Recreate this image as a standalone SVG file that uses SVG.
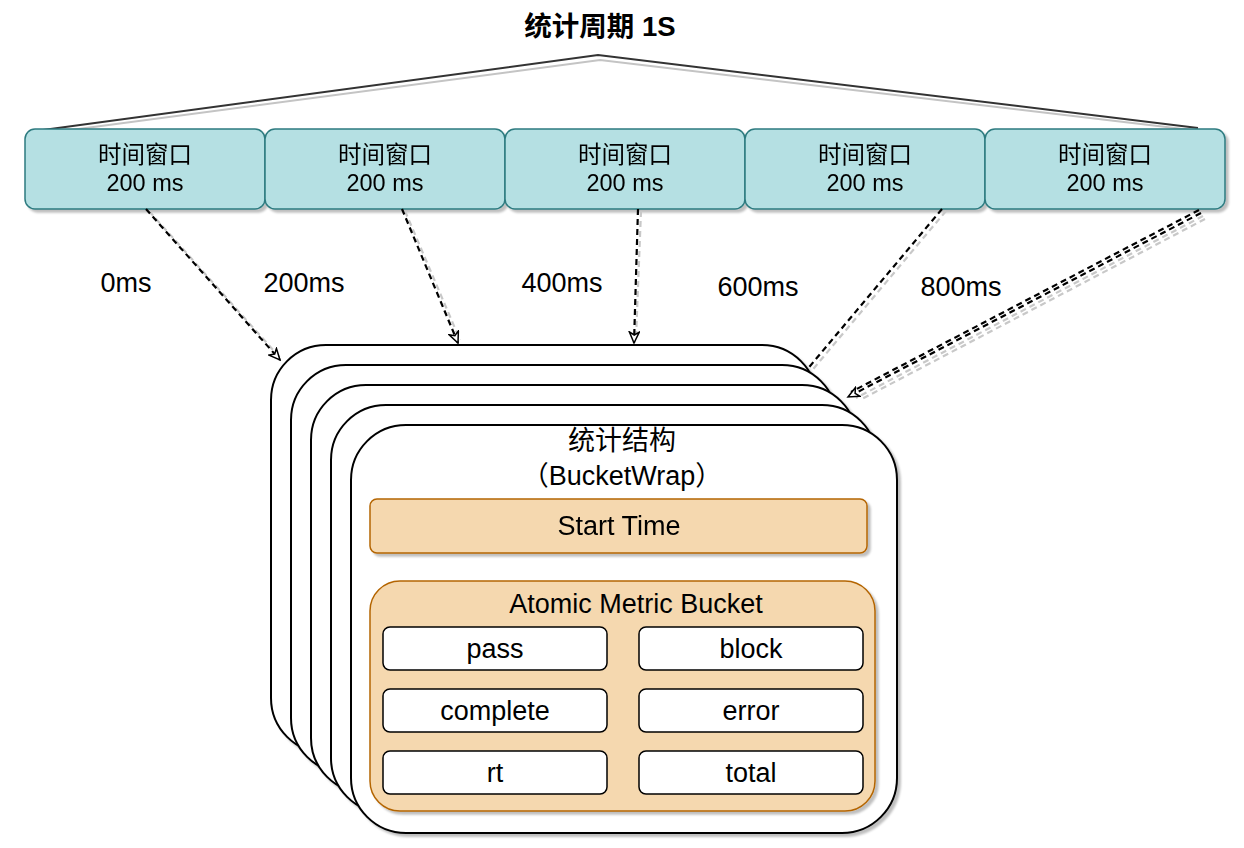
<svg xmlns="http://www.w3.org/2000/svg" width="1244" height="848" viewBox="0 0 1244 848">
<defs>
<filter id="sh" x="-5%" y="-5%" width="115%" height="115%">
<feGaussianBlur in="SourceAlpha" stdDeviation="0.8"/>
<feOffset dx="3" dy="3" result="o"/>
<feFlood flood-color="#000" flood-opacity="0.25"/>
<feComposite in2="o" operator="in"/>
<feMerge><feMergeNode/><feMergeNode in="SourceGraphic"/></feMerge>
</filter>
<marker id="arr" markerWidth="14" markerHeight="12" refX="12" refY="6" orient="auto" markerUnits="userSpaceOnUse">
<path d="M1,1 L12,6 L1,11 L4,6 Z" fill="#fff" stroke="#000" stroke-width="1.5" stroke-linejoin="miter"/>
</marker>
</defs>
<style>
text{font-family:"Liberation Sans","Noto Sans CJK SC",sans-serif;fill:#000;text-anchor:middle}
.win rect{fill:#b5e0e3;stroke:#2d7b80;stroke-width:1.5}
.win text{font-size:23.5px}
.card{fill:#fff;stroke:#000;stroke-width:2}
.org{fill:#f5d8af;stroke:#b46504;stroke-width:1.5}
.cell{fill:#fff;stroke:#000;stroke-width:1.5}
.big{font-size:27px}
.lbl{font-size:27px}
.dash{fill:none;stroke:#000;stroke-width:2.2;stroke-dasharray:6 4}
.dashg{fill:none;stroke:#c8c8c8;stroke-width:2.2;stroke-dasharray:6 4}
</style>
<rect width="1244" height="848" fill="#fff"/>

<g id="title"><text x="600" y="36" style="font-size:27.5px;font-weight:bold">统计周期 1S</text></g>

<g id="brace">
<polyline points="48,133 600,60 1200,131" fill="none" stroke="#c4c4c4" stroke-width="2"/>
<polyline points="43,130 598,55 1198,128" fill="none" stroke="#333" stroke-width="2"/>
</g>

<g id="w1" class="win" filter="url(#sh)"><rect x="25" y="129" width="240" height="80" rx="10"/><text x="145" y="163">时间窗口</text><text x="145" y="191">200 ms</text></g>
<g id="w2" class="win" filter="url(#sh)"><rect x="265" y="129" width="240" height="80" rx="10"/><text x="385" y="163">时间窗口</text><text x="385" y="191">200 ms</text></g>
<g id="w3" class="win" filter="url(#sh)"><rect x="505" y="129" width="240" height="80" rx="10"/><text x="625" y="163">时间窗口</text><text x="625" y="191">200 ms</text></g>
<g id="w4" class="win" filter="url(#sh)"><rect x="745" y="129" width="240" height="80" rx="10"/><text x="865" y="163">时间窗口</text><text x="865" y="191">200 ms</text></g>
<g id="w5" class="win" filter="url(#sh)"><rect x="985" y="129" width="240" height="80" rx="10"/><text x="1105" y="163">时间窗口</text><text x="1105" y="191">200 ms</text></g>

<g id="labels" class="lbl">
<text x="126" y="292">0ms</text>
<text x="304" y="292">200ms</text>
<text x="562" y="292">400ms</text>
<text x="758" y="296">600ms</text>
<text x="961" y="296">800ms</text>
</g>

<g id="connectors">
<line class="dashg" x1="149" y1="211" x2="282" y2="360"/>
<line class="dash" x1="146" y1="209" x2="280" y2="360" marker-end="url(#arr)"/>
<line class="dashg" x1="405" y1="211" x2="460" y2="340"/>
<line class="dash" x1="402" y1="209" x2="458" y2="343" marker-end="url(#arr)"/>
<line class="dashg" x1="641" y1="211" x2="636" y2="338"/>
<line class="dash" x1="638" y1="209" x2="634" y2="343" marker-end="url(#arr)"/>
<line class="dashg" x1="946" y1="211" x2="809" y2="374"/>
<line class="dash" x1="942" y1="209" x2="805" y2="372"/>
<line class="dashg" x1="1203" y1="216" x2="856" y2="398"/>
<line class="dashg" x1="1205" y1="219" x2="860" y2="400"/>
<line class="dash" x1="1199" y1="210" x2="851" y2="392"/>
<line class="dash" x1="1201" y1="213" x2="848" y2="397" marker-end="url(#arr)"/>
</g>

<g id="card1" filter="url(#sh)"><rect class="card" x="271" y="345" width="546" height="408" rx="55"/></g>
<g id="card2" filter="url(#sh)"><rect class="card" x="291" y="365" width="546" height="408" rx="55"/></g>
<g id="card3" filter="url(#sh)"><rect class="card" x="311" y="385" width="546" height="408" rx="55"/></g>
<g id="card4" filter="url(#sh)"><rect class="card" x="331" y="405" width="546" height="408" rx="55"/></g>
<g id="card5">
<rect class="card" x="351" y="425" width="546" height="408" rx="55" filter="url(#sh)"/>
<text class="big" x="622" y="450">统计结构</text>
<text class="big" x="622" y="485">（BucketWrap）</text>
</g>

<g id="starttime" filter="url(#sh)">
<rect class="org" x="370" y="499" width="497" height="54" rx="7"/>
<text class="big" x="619" y="535">Start Time</text>
</g>

<g id="bucket">
<rect class="org" x="370" y="581" width="505" height="230" rx="30" filter="url(#sh)"/>
<text class="big" x="636" y="613">Atomic Metric Bucket</text>
</g>

<g id="pass"><rect class="cell" x="383" y="627" width="224" height="43" rx="7"/><text class="big" x="495" y="658">pass</text></g>
<g id="block"><rect class="cell" x="639" y="627" width="224" height="43" rx="7"/><text class="big" x="751" y="658">block</text></g>
<g id="complete"><rect class="cell" x="383" y="689" width="224" height="43" rx="7"/><text class="big" x="495" y="720">complete</text></g>
<g id="error"><rect class="cell" x="639" y="689" width="224" height="43" rx="7"/><text class="big" x="751" y="720">error</text></g>
<g id="rt"><rect class="cell" x="383" y="751" width="224" height="43" rx="7"/><text class="big" x="495" y="782">rt</text></g>
<g id="total"><rect class="cell" x="639" y="751" width="224" height="43" rx="7"/><text class="big" x="751" y="782">total</text></g>
</svg>
